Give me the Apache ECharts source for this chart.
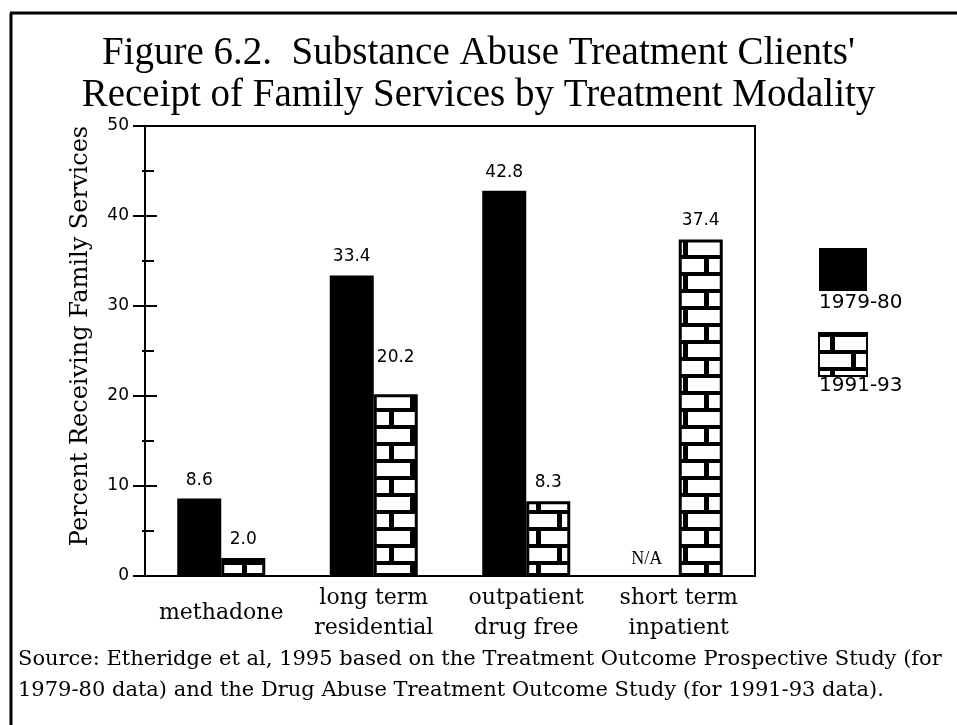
<!DOCTYPE html>
<html>
<head>
<meta charset="utf-8">
<script src="https://cdn.jsdelivr.net/npm/echarts@6/dist/echarts.min.js"></script>
<style>
  html, body { margin: 0; padding: 0; background: #fff; }
  #chart { width: 957px; height: 725px; }
</style>
</head>
<body>
<div id="chart"></div>
<script>
// data
var categories = ['methadone', 'long term\nresidential', 'outpatient\ndrug free', 'short term\ninpatient'];
var seriesNames = ['1979-80', '1991-93'];
var values7980 = [8.6, 33.4, 42.8, null]; // null = N/A
var values9193 = [2.0, 20.2, 8.3, 37.4];

// brick pattern for 1991-93
function brickPattern() {
  var c = document.createElement('canvas');
  c.width = 42;
  c.height = 34;
  var ctx = c.getContext('2d');
  ctx.fillStyle = '#fff';
  ctx.fillRect(0, 0, 42, 34);
  ctx.fillStyle = '#000';
  // horizontal mortar
  ctx.fillRect(0, 0, 42, 4);
  ctx.fillRect(0, 17, 42, 4);
  // vertical mortar
  ctx.fillRect(11, 0, 5, 17);
  ctx.fillRect(32, 17, 5, 17);
  return c;
}

var brick = { image: brickPattern(), repeat: 'repeat' };

var chart = echarts.init(document.getElementById('chart'));

var labelStyle = {
  show: true,
  position: 'top',
  distance: 10,
  color: '#000',
  fontFamily: 'DejaVu Sans',
  fontSize: 17,
  formatter: function (p) { return p.value.toFixed(1); }
};

var option = {
  backgroundColor: '#fff',
  animation: false,
  title: {
    text: "Figure 6.2.  Substance Abuse Treatment Clients'\nReceipt of Family Services by Treatment Modality",
    left: 'center',
    top: 28,
    textStyle: {
      fontFamily: 'Liberation Serif',
      fontWeight: 'normal',
      fontSize: 39,
      lineHeight: 42,
      color: '#000'
    }
  },
  legend: {
    orient: 'vertical',
    left: 813,
    top: 243,
    itemWidth: 48,
    itemHeight: 43,
    itemGap: 41,
    icon: 'rect',
    formatter: function () { return ''; },
    data: seriesNames
  },
  grid: {
    left: 145,
    right: 202,
    top: 126,
    bottom: 149,
    show: true,
    borderColor: '#000',
    borderWidth: 2
  },
  xAxis: {
    type: 'category',
    data: categories,
    axisLine: { lineStyle: { color: '#000', width: 2 } },
    axisTick: { length: 10, lineStyle: { color: '#000', width: 2 } },
    axisLabel: {
      interval: 0,
      hideOverlap: false,
      color: '#000',
      fontFamily: 'DejaVu Serif',
      fontSize: 22,
      lineHeight: 30,
      verticalAlign: 'middle',
      margin: 37
    }
  },
  yAxis: [{
    type: 'value',
    min: 0,
    max: 50,
    interval: 10,
    name: 'Percent Receiving Family Services',
    nameLocation: 'middle',
    nameGap: 52,
    nameTextStyle: { fontFamily: 'DejaVu Serif', fontSize: 24, color: '#000', padding: [0, 0, 0, 30] },
    axisLine: { show: true, lineStyle: { color: '#000', width: 2 } },
    axisTick: { show: true, length: 12, lineStyle: { color: '#000', width: 2 } },
    minorTick: { show: true, splitNumber: 2, length: 3, lineStyle: { color: '#000', width: 2 } },
    splitLine: { show: false },
    axisLabel: { color: '#000', fontFamily: 'DejaVu Sans', fontSize: 17, margin: 16 }
  }, {
    type: 'value',
    position: 'left',
    min: 0,
    max: 50,
    interval: 10,
    axisLine: { show: false },
    axisTick: { show: true, inside: true, length: 12, lineStyle: { color: '#000', width: 2 } },
    minorTick: { show: true, splitNumber: 2, length: 9, lineStyle: { color: '#000', width: 2 } },
    splitLine: { show: false },
    axisLabel: { show: false }
  }],
  series: [{
    name: seriesNames[0],
    type: 'bar',
    barWidth: 44,
    barGap: '0%',
    itemStyle: { color: '#000' },
    label: labelStyle,
    data: values7980.map(function (v) {
      if (v === null) {
        return {
          value: 0,
          label: { formatter: 'N/A', fontFamily: 'Liberation Serif', fontSize: 18, distance: 8, offset: [-10, 0] }
        };
      }
      return v;
    })
  }, {
    name: seriesNames[1],
    type: 'bar',
    barWidth: 44,
    itemStyle: { color: brick, borderColor: '#000', borderWidth: 3 },
    label: labelStyle,
    data: values9193.map(function (v, i) {
      // 20.2 label sits higher in the original
      return i === 1 ? { value: v, label: { distance: 28 } } : v;
    })
  }],
  graphic: [
    { type: 'line', shape: { x1: 10, y1: 13, x2: 957, y2: 13 }, style: { stroke: '#000', lineWidth: 3 } },
    { type: 'line', shape: { x1: 11, y1: 13, x2: 11, y2: 725 }, style: { stroke: '#000', lineWidth: 3 } },
    { type: 'text', left: 819, top: 293, style: { text: seriesNames[0], fontFamily: 'DejaVu Sans', fontSize: 20, fill: '#000' } },
    { type: 'text', left: 819, top: 376, style: { text: seriesNames[1], fontFamily: 'DejaVu Sans', fontSize: 20, fill: '#000' } },
    {
      type: 'text', left: 18, top: 644,
      style: {
        text: 'Source: Etheridge et al, 1995 based on the Treatment Outcome Prospective Study (for\n1979-80 data) and the Drug Abuse Treatment Outcome Study (for 1991-93 data).',
        fontFamily: 'DejaVu Serif', fontSize: 21, lineHeight: 31, fill: '#000'
      }
    }
  ]
};

option && chart.setOption(option);
</script>
</body>
</html>
